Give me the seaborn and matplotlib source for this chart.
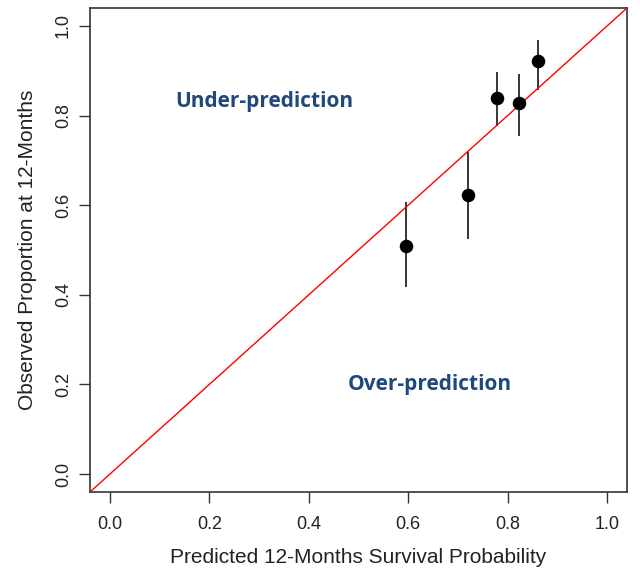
import matplotlib
matplotlib.use("Agg")
import matplotlib.pyplot as plt
import seaborn as sns
import numpy as np
import pandas as pd

predicted = [0.596, 0.721, 0.778, 0.822, 0.862]
observed = [0.509, 0.623, 0.839, 0.829, 0.921]
lower = [0.418, 0.525, 0.776, 0.755, 0.858]
upper = [0.607, 0.718, 0.898, 0.893, 0.969]
ticks = [0.0, 0.2, 0.4, 0.6, 0.8, 1.0]
tick_labels = ["0.0", "0.2", "0.4", "0.6", "0.8", "1.0"]

sns.set_style("ticks")
plt.rcParams['font.family'] = ['Liberation Sans', 'DejaVu Sans']

df = pd.DataFrame({"pred": predicted, "obs": observed, "lo": lower, "hi": upper})

fig = plt.figure(figsize=(6.4, 5.74), dpi=100)
ax = fig.add_axes([90/640, 1-492/574, (627-90)/640, (492-8)/574])

ax.vlines(df["pred"], df["lo"], df["hi"], color="black", linewidth=1.1, zorder=2)
ax.axline((0, 0), slope=1, color="#FF0000", linewidth=1.0, zorder=3)
sns.scatterplot(data=df, x="pred", y="obs", ax=ax, color="black", s=95,
                edgecolor="black", linewidth=0, zorder=4, legend=False)

ax.set_xlim(-0.04, 1.04)
ax.set_ylim(-0.04, 1.04)
ax.set_xticks(ticks)
ax.set_xticklabels(tick_labels)
ax.set_yticks(ticks)
ax.set_yticklabels(tick_labels, rotation=90, va="center")
ax.tick_params(axis="both", direction="out", length=8, width=1, color="#333333",
               labelsize=13, labelcolor="#222222")
ax.tick_params(axis="x", pad=9)
ax.tick_params(axis="y", pad=5)
for s in ax.spines.values():
    s.set_visible(True)
    s.set_linewidth(1.2)
    s.set_color("#333333")

ax.set_xlabel("Predicted 12-Months Survival Probability", fontsize=15, labelpad=11, color="#222222")
ax.set_ylabel("Observed Proportion at 12-Months", fontsize=15, labelpad=13, color="#222222")

ax.text(0.311, 0.831, "Under-prediction", fontsize=15, fontweight="bold",
        color="#1F497D", ha="center", va="center", family=["Open Sans", "DejaVu Sans"])
ax.text(0.644, 0.2, "Over-prediction", fontsize=15, fontweight="bold",
        color="#1F497D", ha="center", va="center", family=["Open Sans", "DejaVu Sans"])

fig.savefig("out.png", dpi=100)
